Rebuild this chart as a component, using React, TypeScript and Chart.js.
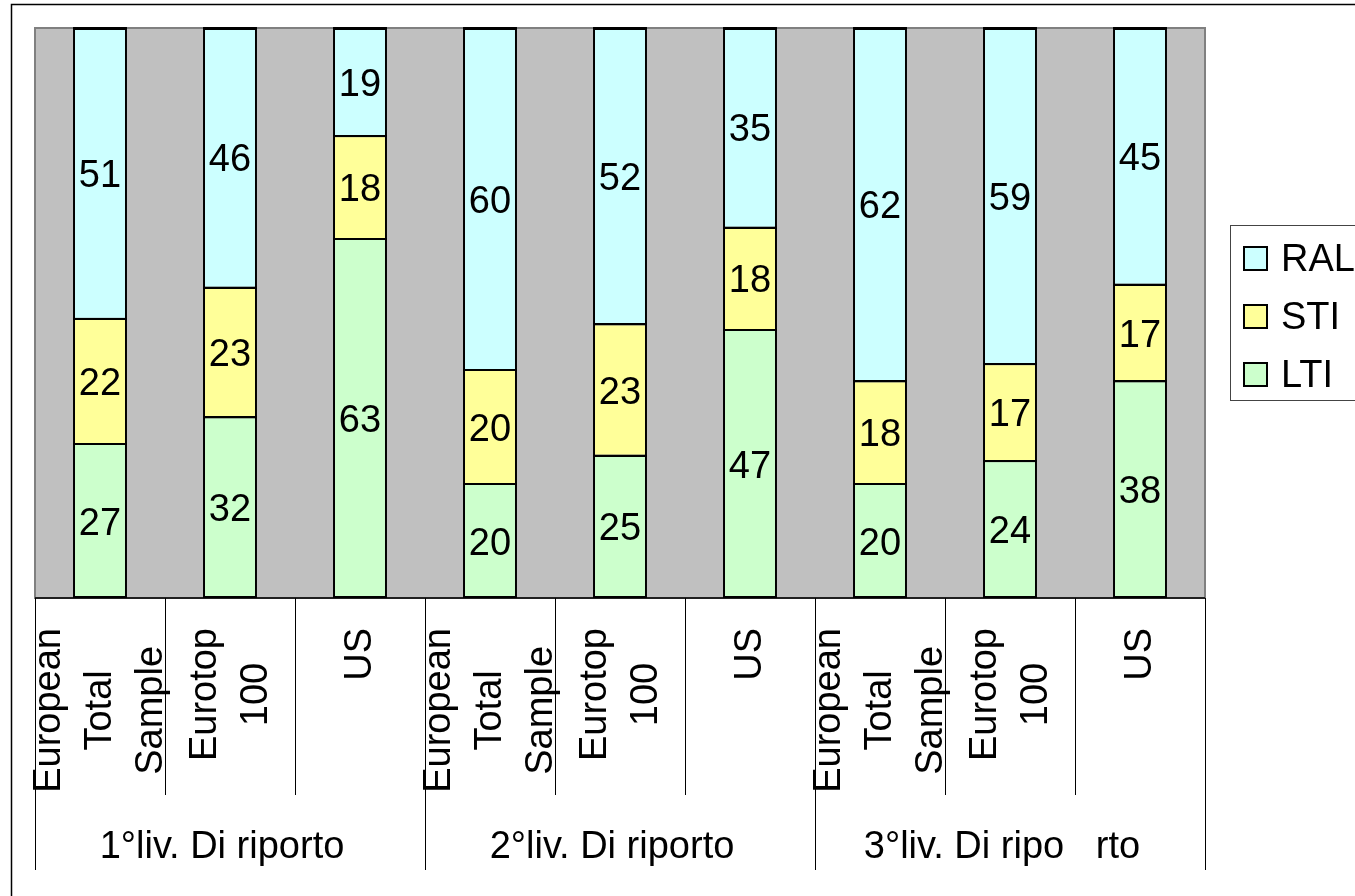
import React, { useEffect, useRef } from "react";
import { Chart, registerables } from "chart.js";

Chart.register(...registerables);

const categoryLabels: string[][] = [
  ["European", "Total", "Sample"],
  ["Eurotop", "100"],
  ["US"],
  ["European", "Total", "Sample"],
  ["Eurotop", "100"],
  ["US"],
  ["European", "Total", "Sample"],
  ["Eurotop", "100"],
  ["US"],
];
const groupLabels: string[] = ["1°liv. Di riporto", "2°liv. Di riporto", "3°liv. Di ripo   rto"];
const seriesNames: string[] = ["LTI", "STI", "RAL"];
const ltiValues: number[] = [27, 32, 63, 20, 25, 47, 20, 24, 38];
const stiValues: number[] = [22, 23, 18, 20, 23, 18, 18, 17, 17];
const ralValues: number[] = [51, 46, 19, 60, 52, 35, 62, 59, 45];
const seriesColors: string[] = ["#CCFFCC", "#FFFF99", "#CCFFFF"];

const FONT = '"Liberation Sans", Arial, Helvetica, sans-serif';
const FS = 38;

const rawSeries = [ltiValues, stiValues, ralValues];
const totals = ltiValues.map((_, i) => rawSeries.reduce((s, arr) => s + arr[i], 0));

const customPlugin = {
  id: "customDraw",
  beforeDatasetsDraw(chart: any) {
    const ctx = chart.ctx as CanvasRenderingContext2D;
    const { left, top, right, bottom } = chart.chartArea;
    ctx.save();
    ctx.strokeStyle = "#000";
    ctx.lineWidth = 1.5;
    ctx.beginPath();
    ctx.moveTo(11.5, chart.height);
    ctx.lineTo(11.5, 4.5);
    ctx.lineTo(chart.width, 4.5);
    ctx.stroke();
    ctx.fillStyle = "#C0C0C0";
    ctx.fillRect(left, top, right - left, bottom - top);
    ctx.strokeStyle = "#808080";
    ctx.lineWidth = 2;
    ctx.strokeRect(left, top, right - left, bottom - top);
    ctx.restore();
  },
  afterDatasetsDraw(chart: any) {
    const ctx = chart.ctx as CanvasRenderingContext2D;
    const { left, right, bottom } = chart.chartArea;
    const xScale = chart.scales.x;
    const n = categoryLabels.length;
    const step = (right - left) / n;
    ctx.save();
    // crisp segment boundaries
    ctx.strokeStyle = "#000";
    ctx.lineWidth = 2;
    chart.data.datasets.forEach((ds: any, di: number) => {
      const meta = chart.getDatasetMeta(di);
      meta.data.forEach((bar: any) => {
        const yb = Math.round(bar.y);
        ctx.beginPath();
        ctx.moveTo(bar.x - bar.width / 2, yb);
        ctx.lineTo(bar.x + bar.width / 2, yb);
        ctx.stroke();
      });
    });
    ctx.font = `${FS}px ${FONT}`;
    ctx.fillStyle = "#000";
    ctx.textAlign = "center";
    ctx.textBaseline = "alphabetic";
    chart.data.datasets.forEach((ds: any, di: number) => {
      const meta = chart.getDatasetMeta(di);
      meta.data.forEach((bar: any, i: number) => {
        const cy = (bar.y + bar.base) / 2;
        ctx.fillText(String(rawSeries[di][i]), bar.x, cy + FS * 0.36);
      });
    });
    ctx.strokeStyle = "#000";
    ctx.lineWidth = 1.5;
    ctx.beginPath();
    ctx.moveTo(left, bottom);
    ctx.lineTo(right, bottom);
    ctx.stroke();
    ctx.lineWidth = 1;
    for (let i = 0; i <= n; i++) {
      const x = Math.round(left + i * step) + 0.5;
      const isGroup = i % 3 === 0;
      ctx.beginPath();
      ctx.moveTo(x, bottom);
      ctx.lineTo(x, isGroup ? 870 : 795);
      ctx.stroke();
    }
    ctx.font = `${FS}px ${FONT}`;
    ctx.textAlign = "center";
    ctx.textBaseline = "alphabetic";
    categoryLabels.forEach((lines, i) => {
      const cx = xScale.getPixelForValue(i);
      const maxW = Math.max(...lines.map((l) => ctx.measureText(l).width));
      ctx.save();
      ctx.translate(cx - 2.5, bottom + 30 + maxW / 2);
      ctx.rotate(-Math.PI / 2);
      lines.forEach((line, j) => {
        const off = (j - (lines.length - 1) / 2) * 51;
        ctx.fillText(line, 0, off + FS * 0.36);
      });
      ctx.restore();
    });
    groupLabels.forEach((g, gi) => {
      const gx = left + (gi * 3 + 1.5) * step;
      ctx.fillText(g, gx - 8, 858);
    });
    ctx.strokeStyle = "#444";
    ctx.lineWidth = 1;
    ctx.strokeRect(1230.5, 225.5, 140, 175);
    ctx.textAlign = "left";
    const order = [2, 1, 0];
    order.forEach((di, k) => {
      const yc = 258 + 58 * k;
      const ds = chart.data.datasets[di];
      ctx.fillStyle = ds.backgroundColor;
      ctx.fillRect(1244, yc - 11, 23, 23);
      ctx.strokeStyle = "#000";
      ctx.lineWidth = 2;
      ctx.strokeRect(1244, yc - 11, 23, 23);
      ctx.fillStyle = "#000";
      ctx.fillText(ds.label, 1281, yc + 13);
    });
    ctx.restore();
  },
};

export default function App() {
  const canvasRef = useRef<HTMLCanvasElement | null>(null);

  useEffect(() => {
    if (!canvasRef.current) return;
    const last = rawSeries.length - 1;
    const datasets = rawSeries.map((arr, di) => ({
      label: seriesNames[di],
      data: arr.map((v, i) => (v / totals[i]) * 100),
      backgroundColor: seriesColors[di],
      borderColor: "#000",
      borderWidth: { left: 2, right: 2, top: di === last ? 2 : 1, bottom: di === 0 ? 2 : 1 },
      borderSkipped: false as const,
      barPercentage: 0.415,
      categoryPercentage: 1,
    }));
    const chart = new Chart(canvasRef.current, {
      type: "bar",
      data: {
        labels: categoryLabels.map((l) => l.join(" ")),
        datasets,
      },
      options: {
        responsive: false,
        animation: false,
        devicePixelRatio: 1,
        layout: { padding: { left: 35, top: 28, right: 150, bottom: 298 } },
        plugins: {
          legend: { display: false },
          tooltip: { enabled: false },
        },
        scales: {
          x: { stacked: true, display: false },
          y: { stacked: true, display: false, min: 0, max: 100 },
        },
      },
      plugins: [customPlugin],
    });
    return () => chart.destroy();
  }, []);

  return (
    <div style={{ position: "absolute", left: 0, top: 0, width: 1355, height: 896, background: "#fff" }}>
      <canvas ref={canvasRef} width={1355} height={896} />
    </div>
  );
}
